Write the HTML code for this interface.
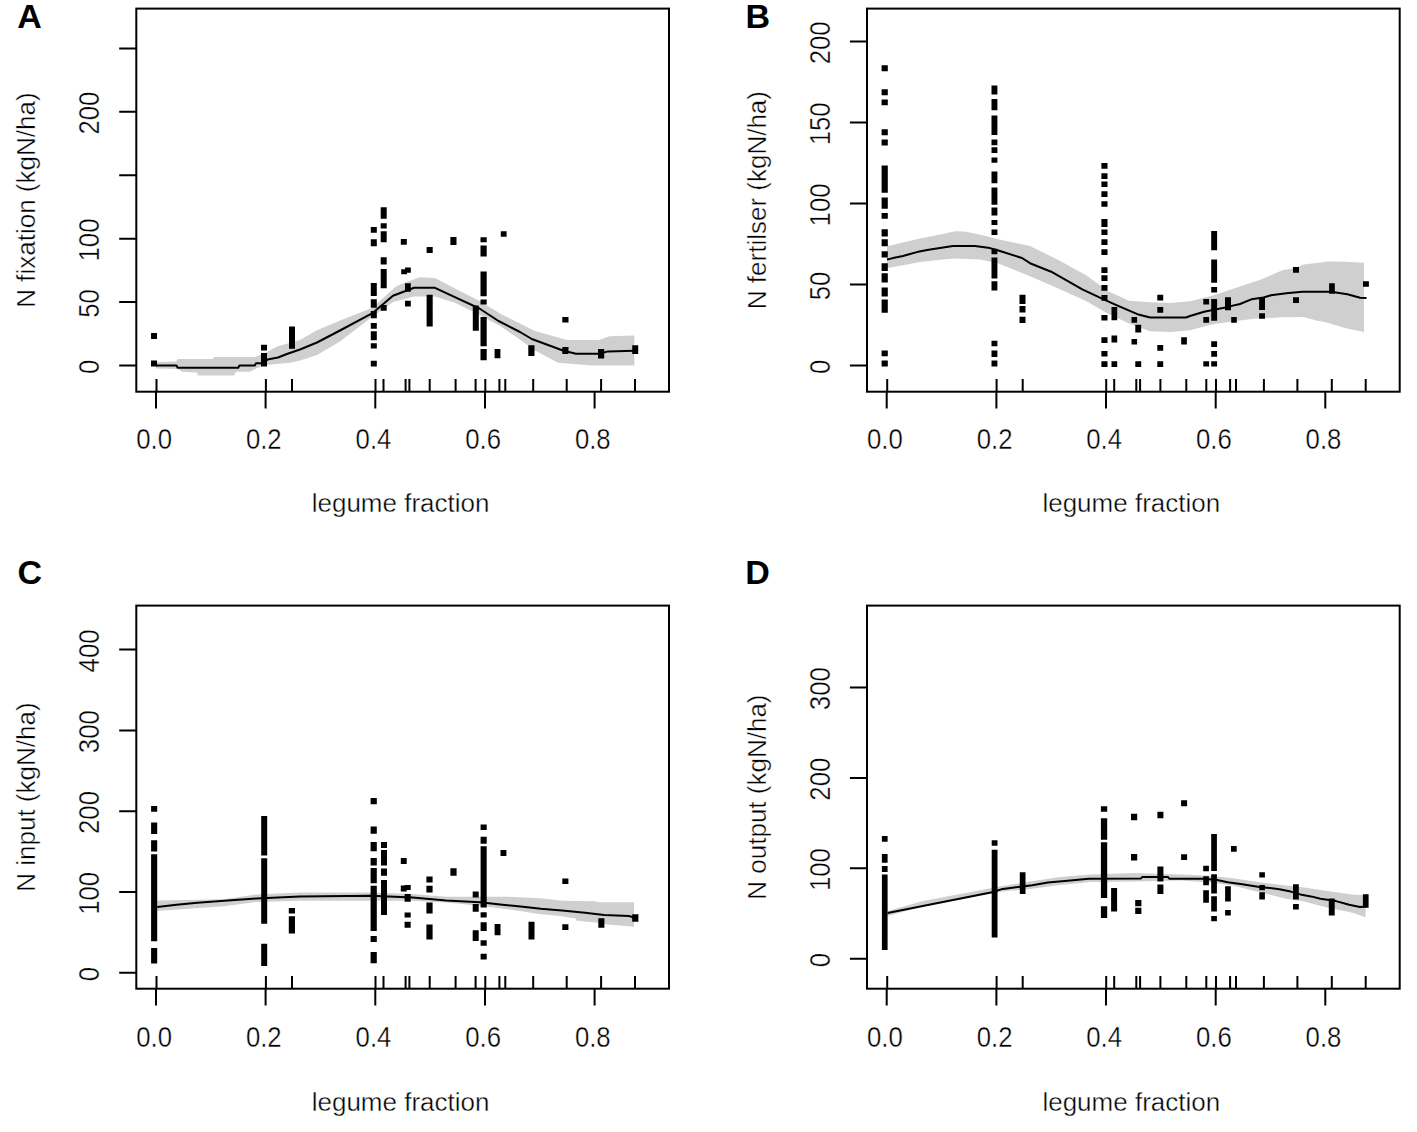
<!DOCTYPE html>
<html><head><meta charset="utf-8"><title>Legume fraction plots</title>
<style>
html,body{margin:0;padding:0;background:#fff;width:1417px;height:1132px;overflow:hidden}
svg{display:block}
.t{font-family:"Liberation Sans", sans-serif;font-size:29.6px;fill:#000;stroke:#fff;stroke-width:0.4px}
.l{font-family:"Liberation Sans", sans-serif;font-size:26px;fill:#000;stroke:#fff;stroke-width:0.4px}
.L{font-family:"Liberation Sans", sans-serif;font-size:34px;font-weight:bold;fill:#000}
</style></head><body>
<svg width="1417" height="1132" viewBox="0 0 1417 1132">
<rect width="1417" height="1132" fill="#fff"/>
<g><polygon fill="#cfcfcf" stroke="none" points="156.0,362.0 176.0,361.5 178.0,359.0 213.0,359.0 214.0,357.0 255.0,357.0 266.0,352.5 277.0,346.4 300.0,340.0 317.0,330.2 340.0,320.5 372.0,308.0 396.5,286.0 419.5,277.2 435.0,278.0 455.0,288.6 479.6,301.0 500.0,313.4 535.0,331.0 567.0,339.9 599.0,339.9 609.5,336.3 634.3,335.5 634.3,365.5 592.0,365.5 558.0,362.8 535.0,350.5 517.7,338.1 500.0,326.0 479.6,315.1 455.0,302.8 435.0,296.6 414.0,296.6 393.0,301.9 372.0,316.9 340.0,341.6 317.0,354.9 300.0,360.6 290.0,362.8 266.4,365.0 256.0,368.6 250.0,371.8 236.0,371.8 234.0,375.5 198.0,375.5 197.0,372.5 182.0,371.8 178.0,369.0 156.0,368.6"/><polyline fill="none" stroke="#000" stroke-width="2" stroke-linejoin="round" points="156.0,365.4 176.5,365.4 177.5,367.7 238.4,367.7 239.4,365.4 254.8,365.4 256.0,363.3 262.0,363.3 267.5,359.6 278.0,357.5 287.6,353.8 300.0,349.5 317.0,342.5 340.0,330.5 372.0,313.4 393.0,295.7 414.0,287.8 435.0,287.8 450.0,294.8 479.4,308.5 498.5,321.0 520.0,332.0 531.8,339.0 563.6,350.8 576.0,353.7 599.0,353.7 608.0,351.4 634.3,350.8"/><path fill="#000" d="M151.0 333.0H157.0V339.0H151.0ZM151.0 360.6H157.0V366.5H151.0ZM261.0 344.8H267.0V350.5H261.0ZM261.0 353.0H267.0V366.4H261.0ZM289.0 326.6H295.0V348.7H289.0ZM370.8 227.0H376.8V232.7H370.8ZM370.8 239.3H376.8V246.2H370.8ZM370.8 283.0H376.8V296.0H370.8ZM370.8 299.3H376.8V307.7H370.8ZM370.8 311.1H376.8V318.2H370.8ZM370.8 323.0H376.8V328.7H370.8ZM370.8 331.2H376.8V340.2H370.8ZM370.8 343.2H376.8V348.5H370.8ZM370.8 360.8H376.8V366.5H370.8ZM380.7 207.2H386.7V218.7H380.7ZM380.7 223.2H386.7V228.5H380.7ZM380.7 231.2H386.7V242.3H380.7ZM380.7 257.3H386.7V264.5H380.7ZM380.7 269.0H386.7V288.2H380.7ZM380.7 305.0H386.7V310.7H380.7ZM400.8 239.0H406.8V244.7H400.8ZM401.2 269.3H407.0V274.3H401.2ZM405.0 267.5H410.8V272.7H405.0ZM405.0 283.2H410.8V291.8H405.0ZM405.0 300.8H410.8V306.5H405.0ZM426.6 247.0H432.7V253.0H426.6ZM426.6 294.8H432.7V326.6H426.6ZM450.4 237.0H456.5V245.0H450.4ZM472.8 305.5H478.8V330.8H472.8ZM480.5 237.2H486.7V242.3H480.5ZM480.5 245.5H486.7V256.4H480.5ZM480.5 271.4H486.7V296.2H480.5ZM480.5 299.4H486.7V304.5H480.5ZM480.5 317.0H486.7V346.2H480.5ZM480.5 349.1H486.7V360.3H480.5ZM494.6 349.1H500.4V358.3H494.6ZM500.8 231.2H506.6V236.8H500.8ZM528.3 345.2H534.5V356.1H528.3ZM562.3 317.0H568.5V322.6H562.3ZM562.3 347.0H568.5V354.0H562.3ZM598.0 349.0H604.2V358.4H598.0ZM632.2 345.2H638.2V354.0H632.2Z"/><path stroke="#000" stroke-width="2" fill="none" d="M156.5 391.7V379.0M265.9 391.7V379.0M292.0 391.7V379.0M375.5 391.7V379.0M383.5 391.7V379.0M405.6 391.7V379.0M409.4 391.7V379.0M429.7 391.7V379.0M455.6 391.7V379.0M475.6 391.7V379.0M485.3 391.7V379.0M499.4 391.7V379.0M505.3 391.7V379.0M533.2 391.7V379.0M566.7 391.7V379.0M601.1 391.7V379.0M635.0 391.7V379.0"/><rect x="136.3" y="8.6" width="532.7" height="383.1" fill="none" stroke="#000" stroke-width="2"/><path stroke="#000" stroke-width="2" fill="none" d="M156.0 391.7V408.4M265.6 391.7V408.4M375.3 391.7V408.4M485.0 391.7V408.4M594.6 391.7V408.4M119.2 365.5H136.3M119.2 302.1H136.3M119.2 238.7H136.3M119.2 175.2H136.3M119.2 111.8H136.3M119.2 48.4H136.3"/><text transform="translate(154.2,448.6) scale(0.87,1)" text-anchor="middle" class="t">0.0</text><text transform="translate(263.8,448.6) scale(0.87,1)" text-anchor="middle" class="t">0.2</text><text transform="translate(373.5,448.6) scale(0.87,1)" text-anchor="middle" class="t">0.4</text><text transform="translate(483.2,448.6) scale(0.87,1)" text-anchor="middle" class="t">0.6</text><text transform="translate(592.8,448.6) scale(0.87,1)" text-anchor="middle" class="t">0.8</text><text transform="translate(99.4,366.8) rotate(-90) scale(0.87,1)" text-anchor="middle" class="t">0</text><text transform="translate(99.4,303.4) rotate(-90) scale(0.87,1)" text-anchor="middle" class="t">50</text><text transform="translate(99.4,240.0) rotate(-90) scale(0.87,1)" text-anchor="middle" class="t">100</text><text transform="translate(99.4,113.1) rotate(-90) scale(0.87,1)" text-anchor="middle" class="t">200</text><text x="400.6" y="511.8" text-anchor="middle" class="l">legume fraction</text><text transform="translate(35.2,200.1) rotate(-90)" text-anchor="middle" class="l">N fixation (kgN/ha)</text><text x="17.3" y="27.8" class="L">A</text></g>
<g><polygon fill="#cfcfcf" stroke="none" points="887.0,246.5 897.6,243.7 920.2,238.6 942.8,234.1 955.0,231.3 965.0,231.5 980.2,234.7 997.2,238.9 1030.0,246.0 1058.3,260.0 1086.5,275.5 1107.7,291.0 1129.0,300.8 1150.1,302.2 1171.3,302.9 1190.0,301.3 1211.2,296.1 1232.4,289.0 1253.6,282.0 1261.2,279.5 1274.8,273.5 1282.4,270.3 1296.0,267.8 1303.6,264.6 1317.2,263.1 1327.6,261.4 1346.0,261.8 1364.0,262.8 1364.0,332.0 1346.0,328.2 1324.8,321.9 1317.2,320.8 1303.6,316.9 1282.4,317.3 1261.2,318.3 1253.6,318.7 1232.4,321.6 1211.2,324.4 1190.0,330.2 1171.3,331.9 1150.1,331.2 1129.0,323.4 1107.7,313.5 1086.5,301.3 1058.3,288.6 1030.0,276.2 1018.4,271.4 997.2,263.0 980.2,259.4 955.0,258.4 942.8,259.5 920.2,262.1 897.6,266.3 887.0,268.0"/><polyline fill="none" stroke="#000" stroke-width="2" stroke-linejoin="round" points="887.0,259.5 893.0,258.1 903.0,256.0 910.0,254.0 917.0,252.1 927.0,250.0 941.5,247.8 953.0,246.0 975.0,246.0 990.0,248.1 1000.0,251.0 1022.0,258.0 1030.0,263.2 1051.2,271.7 1082.3,289.3 1104.2,299.6 1117.6,305.7 1137.4,314.2 1150.1,317.5 1186.0,317.5 1190.0,316.0 1204.1,311.7 1225.3,307.4 1240.0,304.0 1251.3,299.3 1263.5,297.5 1271.1,295.3 1286.3,293.2 1302.5,291.7 1331.0,291.7 1347.4,294.3 1360.1,297.8 1366.5,298.1"/><path fill="#000" d="M881.6 65.2H887.8V71.3H881.6ZM881.6 89.2H887.8V95.3H881.6ZM881.6 99.5H887.8V105.2H881.6ZM881.6 129.2H887.8V135.3H881.6ZM881.6 139.5H887.8V145.5H881.6ZM881.6 165.4H887.8V192.8H881.6ZM881.6 197.5H887.8V208.8H881.6ZM881.6 213.1H887.8V218.7H881.6ZM881.6 229.3H887.8V236.4H881.6ZM881.6 239.2H887.8V246.3H881.6ZM881.6 251.3H887.8V257.6H881.6ZM881.6 263.3H887.8V271.1H881.6ZM881.6 273.2H887.8V282.4H881.6ZM881.6 287.4H887.8V296.6H881.6ZM881.6 299.4H887.8V312.8H881.6ZM881.6 350.6H887.8V356.2H881.6ZM881.6 360.5H887.8V366.5H881.6ZM991.5 85.5H997.4V94.6H991.5ZM991.5 99.1H997.4V110.2H991.5ZM991.5 115.5H997.4V134.9H991.5ZM991.5 139.4H997.4V145.3H991.5ZM991.5 147.2H997.4V153.1H991.5ZM991.5 157.5H997.4V162.8H991.5ZM991.5 171.6H997.4V183.3H991.5ZM991.5 187.5H997.4V204.7H991.5ZM991.5 207.6H997.4V215.4H991.5ZM991.5 219.9H997.4V225.1H991.5ZM991.5 229.6H997.4V234.9H991.5ZM991.5 248.8H997.4V254.3H991.5ZM991.5 257.5H997.4V278.4H991.5ZM991.5 281.3H997.4V290.6H991.5ZM991.5 340.7H997.4V346.3H991.5ZM991.5 350.6H997.4V357.0H991.5ZM991.5 360.5H997.4V366.5H991.5ZM1019.5 294.8H1025.5V303.9H1019.5ZM1019.5 306.1H1025.5V312.4H1019.5ZM1019.5 316.7H1025.5V323.0H1019.5ZM1101.4 163.0H1107.5V168.7H1101.4ZM1101.4 173.3H1107.5V179.0H1101.4ZM1101.4 181.4H1107.5V187.0H1101.4ZM1101.4 191.3H1107.5V196.9H1101.4ZM1101.4 201.2H1107.5V206.8H1101.4ZM1101.4 219.0H1107.5V227.0H1101.4ZM1101.4 229.4H1107.5V235.1H1101.4ZM1101.4 239.3H1107.5V245.0H1101.4ZM1101.4 249.2H1107.5V254.9H1101.4ZM1101.4 267.3H1107.5V273.0H1101.4ZM1101.4 275.2H1107.5V280.9H1101.4ZM1101.4 285.1H1107.5V290.8H1101.4ZM1101.4 295.0H1107.5V300.7H1101.4ZM1101.4 315.0H1107.5V320.6H1101.4ZM1101.4 337.2H1107.5V342.9H1101.4ZM1101.4 351.0H1107.5V356.6H1101.4ZM1101.4 361.3H1107.5V366.9H1101.4ZM1111.5 307.1H1117.2V320.3H1111.5ZM1111.5 335.4H1117.2V342.5H1111.5ZM1111.5 361.3H1117.2V366.9H1111.5ZM1131.5 317.0H1137.1V322.7H1131.5ZM1131.5 339.0H1137.1V344.6H1131.5ZM1135.3 324.8H1141.2V332.6H1135.3ZM1135.3 361.3H1141.2V366.9H1135.3ZM1157.3 294.8H1163.2V300.5H1157.3ZM1157.3 307.1H1163.2V312.8H1157.3ZM1157.3 345.0H1163.2V350.8H1157.3ZM1157.3 361.3H1163.2V366.9H1157.3ZM1181.2 337.2H1186.9V344.6H1181.2ZM1203.3 298.9H1209.1V304.6H1203.3ZM1203.3 317.0H1209.1V322.7H1203.3ZM1203.3 361.3H1209.1V366.6H1203.3ZM1211.2 231.1H1217.1V250.2H1211.2ZM1211.2 259.4H1217.1V282.7H1211.2ZM1211.2 286.9H1217.1V292.6H1211.2ZM1211.2 298.9H1217.1V320.8H1211.2ZM1211.2 341.2H1217.1V347.0H1211.2ZM1211.2 351.0H1217.1V356.8H1211.2ZM1211.2 361.3H1217.1V366.6H1211.2ZM1225.0 297.2H1231.0V310.2H1225.0ZM1231.2 317.0H1236.8V322.7H1231.2ZM1259.1 297.6H1265.0V310.0H1259.1ZM1259.1 313.2H1265.0V318.8H1259.1ZM1293.0 267.0H1299.0V272.8H1293.0ZM1293.0 297.2H1299.0V303.0H1293.0ZM1329.1 283.2H1334.8V293.8H1329.1ZM1363.0 281.2H1368.9V286.8H1363.0Z"/><path stroke="#000" stroke-width="2" fill="none" d="M887.2 391.7V379.0M996.6 391.7V379.0M1022.7 391.7V379.0M1106.2 391.7V379.0M1114.2 391.7V379.0M1136.3 391.7V379.0M1140.1 391.7V379.0M1160.4 391.7V379.0M1186.3 391.7V379.0M1206.3 391.7V379.0M1216.0 391.7V379.0M1230.1 391.7V379.0M1236.0 391.7V379.0M1263.9 391.7V379.0M1297.4 391.7V379.0M1331.8 391.7V379.0M1365.7 391.7V379.0"/><rect x="867.0" y="8.6" width="532.7" height="383.1" fill="none" stroke="#000" stroke-width="2"/><path stroke="#000" stroke-width="2" fill="none" d="M886.7 391.7V408.4M996.4 391.7V408.4M1106.0 391.7V408.4M1215.7 391.7V408.4M1325.3 391.7V408.4M849.9 365.6H867.0M849.9 284.6H867.0M849.9 203.6H867.0M849.9 122.5H867.0M849.9 41.5H867.0"/><text transform="translate(884.9,448.6) scale(0.87,1)" text-anchor="middle" class="t">0.0</text><text transform="translate(994.6,448.6) scale(0.87,1)" text-anchor="middle" class="t">0.2</text><text transform="translate(1104.2,448.6) scale(0.87,1)" text-anchor="middle" class="t">0.4</text><text transform="translate(1213.9,448.6) scale(0.87,1)" text-anchor="middle" class="t">0.6</text><text transform="translate(1323.5,448.6) scale(0.87,1)" text-anchor="middle" class="t">0.8</text><text transform="translate(830.1,366.9) rotate(-90) scale(0.87,1)" text-anchor="middle" class="t">0</text><text transform="translate(830.1,285.9) rotate(-90) scale(0.87,1)" text-anchor="middle" class="t">50</text><text transform="translate(830.1,204.9) rotate(-90) scale(0.87,1)" text-anchor="middle" class="t">100</text><text transform="translate(830.1,123.8) rotate(-90) scale(0.87,1)" text-anchor="middle" class="t">150</text><text transform="translate(830.1,42.8) rotate(-90) scale(0.87,1)" text-anchor="middle" class="t">200</text><text x="1131.3" y="511.8" text-anchor="middle" class="l">legume fraction</text><text transform="translate(765.9,200.1) rotate(-90)" text-anchor="middle" class="l">N fertilser (kgN/ha)</text><text x="745.6" y="27.6" class="L">B</text></g>
<g><polygon fill="#cfcfcf" stroke="none" points="157.2,900.5 224.0,899.3 256.0,894.5 300.0,892.5 370.0,892.5 412.5,894.1 446.0,896.7 482.0,896.7 507.2,896.7 540.7,898.3 560.0,900.5 574.3,901.0 596.0,901.2 597.0,902.3 634.0,902.3 634.0,926.8 607.7,924.4 595.8,922.6 576.7,920.8 575.5,918.5 560.0,916.1 540.7,914.3 507.2,909.2 482.0,905.9 446.0,902.5 412.5,900.8 370.0,900.8 300.0,900.8 256.0,902.0 224.0,906.3 157.2,911.0"/><polyline fill="none" stroke="#000" stroke-width="2" stroke-linejoin="round" points="157.2,907.1 176.6,904.7 197.3,902.8 224.3,900.8 256.1,898.4 300.0,896.5 370.6,895.8 412.5,897.5 446.1,900.5 480.0,902.3 502.6,904.8 520.6,906.4 541.0,908.7 564.7,910.7 585.0,912.7 604.2,914.9 629.0,916.0 634.7,917.7"/><path fill="#000" d="M151.1 806.1H157.2V811.7H151.1ZM151.1 822.4H157.2V834.0H151.1ZM151.1 840.3H157.2V851.5H151.1ZM151.1 854.2H157.2V941.3H151.1ZM151.1 948.0H157.2V963.6H151.1ZM261.2 816.0H267.2V855.4H261.2ZM261.2 858.3H267.2V923.8H261.2ZM261.2 943.7H267.2V966.0H261.2ZM288.8 907.9H295.0V913.5H288.8ZM288.8 916.2H295.0V933.4H288.8ZM370.6 798.1H376.8V804.3H370.6ZM370.6 826.6H376.8V833.7H370.6ZM370.6 842.1H376.8V851.3H370.6ZM370.6 858.0H376.8V865.6H370.6ZM370.6 868.1H376.8V883.2H370.6ZM370.6 885.7H376.8V931.1H370.6ZM370.6 936.1H376.8V942.0H370.6ZM370.6 952.1H376.8V963.3H370.6ZM381.0 842.1H387.0V848.0H381.0ZM381.0 850.1H387.0V865.6H381.0ZM381.0 868.6H387.0V875.7H381.0ZM381.0 879.9H387.0V915.1H381.0ZM400.8 858.0H406.7V863.9H400.8ZM400.8 885.4H406.7V891.6H400.8ZM404.6 884.9H410.7V890.0H404.6ZM404.6 894.1H410.7V901.7H404.6ZM404.6 912.6H410.7V917.6H404.6ZM404.6 921.8H410.7V927.7H404.6ZM426.4 876.5H432.6V882.4H426.4ZM426.4 885.7H432.6V892.5H426.4ZM426.4 902.5H432.6V913.4H426.4ZM426.4 924.4H432.6V939.5H426.4ZM450.4 868.3H456.6V875.7H450.4ZM472.7 891.6H478.7V897.5H472.7ZM472.7 903.9H478.7V911.8H472.7ZM472.7 930.2H478.7V941.1H472.7ZM480.6 824.5H486.7V830.0H480.6ZM480.6 836.7H486.7V843.8H480.6ZM480.6 846.3H486.7V907.6H480.6ZM480.6 912.3H486.7V917.6H480.6ZM480.6 922.3H486.7V931.1H480.6ZM480.6 940.3H486.7V945.8H480.6ZM480.6 953.7H486.7V959.6H480.6ZM494.6 924.0H500.5V935.3H494.6ZM500.5 850.1H506.4V855.9H500.5ZM528.5 921.8H534.5V939.5H528.5ZM562.3 878.4H568.4V884.0H562.3ZM562.3 924.3H568.4V929.9H562.3ZM598.3 918.3H604.4V927.8H598.3ZM632.2 914.3H638.4V921.8H632.2Z"/><path stroke="#000" stroke-width="2" fill="none" d="M156.5 988.7V976.0M265.9 988.7V976.0M292.0 988.7V976.0M375.5 988.7V976.0M383.5 988.7V976.0M405.6 988.7V976.0M409.4 988.7V976.0M429.7 988.7V976.0M455.6 988.7V976.0M475.6 988.7V976.0M485.3 988.7V976.0M499.4 988.7V976.0M505.3 988.7V976.0M533.2 988.7V976.0M566.7 988.7V976.0M601.1 988.7V976.0M635.0 988.7V976.0"/><rect x="136.3" y="605.6" width="532.7" height="383.1" fill="none" stroke="#000" stroke-width="2"/><path stroke="#000" stroke-width="2" fill="none" d="M156.0 988.7V1005.4M265.6 988.7V1005.4M375.3 988.7V1005.4M485.0 988.7V1005.4M594.6 988.7V1005.4M119.2 972.8H136.3M119.2 892.0H136.3M119.2 811.2H136.3M119.2 730.4H136.3M119.2 649.6H136.3"/><text transform="translate(154.2,1047.1) scale(0.87,1)" text-anchor="middle" class="t">0.0</text><text transform="translate(263.8,1047.1) scale(0.87,1)" text-anchor="middle" class="t">0.2</text><text transform="translate(373.5,1047.1) scale(0.87,1)" text-anchor="middle" class="t">0.4</text><text transform="translate(483.2,1047.1) scale(0.87,1)" text-anchor="middle" class="t">0.6</text><text transform="translate(592.8,1047.1) scale(0.87,1)" text-anchor="middle" class="t">0.8</text><text transform="translate(99.4,974.1) rotate(-90) scale(0.87,1)" text-anchor="middle" class="t">0</text><text transform="translate(99.4,893.3) rotate(-90) scale(0.87,1)" text-anchor="middle" class="t">100</text><text transform="translate(99.4,812.5) rotate(-90) scale(0.87,1)" text-anchor="middle" class="t">200</text><text transform="translate(99.4,731.7) rotate(-90) scale(0.87,1)" text-anchor="middle" class="t">300</text><text transform="translate(99.4,650.9) rotate(-90) scale(0.87,1)" text-anchor="middle" class="t">400</text><text x="400.6" y="1110.8" text-anchor="middle" class="l">legume fraction</text><text transform="translate(35.2,797.1) rotate(-90)" text-anchor="middle" class="l">N input (kgN/ha)</text><text x="17.6" y="584.2" class="L">C</text></g>
<g><polygon fill="#cfcfcf" stroke="none" points="887.5,911.0 923.0,901.0 965.4,893.0 1002.6,886.0 1030.0,881.4 1060.0,876.9 1090.1,874.6 1135.2,873.1 1180.0,874.5 1206.5,875.6 1233.0,878.3 1259.5,882.2 1286.0,885.6 1303.9,887.5 1327.7,891.0 1351.6,894.6 1365.5,895.2 1365.5,917.2 1351.6,912.5 1327.7,907.7 1303.9,901.6 1286.0,898.8 1259.5,892.2 1233.0,885.6 1206.5,882.2 1180.0,880.5 1135.2,881.4 1090.1,882.1 1060.0,885.1 1030.0,888.9 1002.6,891.5 965.4,898.5 923.0,906.5 887.5,916.0"/><polyline fill="none" stroke="#000" stroke-width="2" stroke-linejoin="round" points="887.6,912.9 992.0,892.3 1002.7,888.9 1032.3,885.3 1047.9,882.5 1067.6,880.7 1088.8,878.7 1141.0,878.4 1142.4,876.9 1167.8,876.9 1169.3,878.7 1203.9,878.7 1217.1,880.0 1227.7,882.2 1242.3,884.2 1259.5,886.9 1279.4,889.2 1290.7,891.6 1300.3,894.4 1311.0,896.4 1320.5,898.8 1336.0,901.1 1349.2,904.7 1359.9,907.1 1365.9,906.5"/><path fill="#000" d="M881.9 836.0H887.6V841.8H881.9ZM881.9 854.1H887.6V862.7H881.9ZM881.9 866.0H887.6V872.0H881.9ZM881.9 874.4H887.6V949.9H881.9ZM991.7 840.2H997.5V845.8H991.7ZM991.7 849.7H997.5V937.6H991.7ZM1019.8 872.3H1025.5V893.9H1019.8ZM1100.9 806.3H1107.2V811.8H1100.9ZM1100.9 818.3H1107.2V839.8H1100.9ZM1100.9 842.3H1107.2V897.9H1100.9ZM1100.9 906.2H1107.2V917.9H1100.9ZM1111.1 888.1H1117.1V911.4H1111.1ZM1131.0 813.8H1137.2V820.2H1131.0ZM1131.0 853.9H1137.2V860.4H1131.0ZM1135.2 899.9H1141.4V906.2H1135.2ZM1135.2 907.7H1141.4V914.0H1135.2ZM1157.4 811.8H1163.4V818.3H1157.4ZM1157.4 866.4H1163.4V881.4H1157.4ZM1157.4 884.4H1163.4V893.9H1157.4ZM1181.1 800.3H1187.1V806.3H1181.1ZM1181.1 854.2H1187.1V860.0H1181.1ZM1203.2 865.7H1208.9V871.2H1203.2ZM1203.2 876.3H1208.9V885.3H1203.2ZM1203.2 890.2H1208.9V902.8H1203.2ZM1211.2 834.1H1216.9V871.0H1211.2ZM1211.2 874.3H1216.9V893.5H1211.2ZM1211.2 896.2H1216.9V911.4H1211.2ZM1211.2 916.0H1216.9V921.3H1211.2ZM1225.1 886.2H1230.8V901.5H1225.1ZM1225.1 910.1H1230.8V915.4H1225.1ZM1231.0 846.1H1236.7V851.8H1231.0ZM1259.3 872.3H1264.9V877.6H1259.3ZM1259.3 884.9H1264.9V890.2H1259.3ZM1259.3 892.2H1264.9V899.5H1259.3ZM1293.0 884.3H1298.8V899.4H1293.0ZM1293.0 904.1H1298.8V909.6H1293.0ZM1328.8 898.5H1334.7V915.5H1328.8ZM1362.9 894.3H1368.6V907.7H1362.9Z"/><path stroke="#000" stroke-width="2" fill="none" d="M887.2 988.7V976.0M996.6 988.7V976.0M1022.7 988.7V976.0M1106.2 988.7V976.0M1114.2 988.7V976.0M1136.3 988.7V976.0M1140.1 988.7V976.0M1160.4 988.7V976.0M1186.3 988.7V976.0M1206.3 988.7V976.0M1216.0 988.7V976.0M1230.1 988.7V976.0M1236.0 988.7V976.0M1263.9 988.7V976.0M1297.4 988.7V976.0M1331.8 988.7V976.0M1365.7 988.7V976.0"/><rect x="867.0" y="605.6" width="532.7" height="383.1" fill="none" stroke="#000" stroke-width="2"/><path stroke="#000" stroke-width="2" fill="none" d="M886.7 988.7V1005.4M996.4 988.7V1005.4M1106.0 988.7V1005.4M1215.7 988.7V1005.4M1325.3 988.7V1005.4M849.9 958.8H867.0M849.9 868.3H867.0M849.9 777.9H867.0M849.9 687.4H867.0"/><text transform="translate(884.9,1047.1) scale(0.87,1)" text-anchor="middle" class="t">0.0</text><text transform="translate(994.6,1047.1) scale(0.87,1)" text-anchor="middle" class="t">0.2</text><text transform="translate(1104.2,1047.1) scale(0.87,1)" text-anchor="middle" class="t">0.4</text><text transform="translate(1213.9,1047.1) scale(0.87,1)" text-anchor="middle" class="t">0.6</text><text transform="translate(1323.5,1047.1) scale(0.87,1)" text-anchor="middle" class="t">0.8</text><text transform="translate(830.1,960.1) rotate(-90) scale(0.87,1)" text-anchor="middle" class="t">0</text><text transform="translate(830.1,869.6) rotate(-90) scale(0.87,1)" text-anchor="middle" class="t">100</text><text transform="translate(830.1,779.2) rotate(-90) scale(0.87,1)" text-anchor="middle" class="t">200</text><text transform="translate(830.1,688.7) rotate(-90) scale(0.87,1)" text-anchor="middle" class="t">300</text><text x="1131.3" y="1110.8" text-anchor="middle" class="l">legume fraction</text><text transform="translate(765.9,797.1) rotate(-90)" text-anchor="middle" class="l">N output (kgN/ha)</text><text x="745.2" y="584.2" class="L">D</text></g>
</svg>
</body></html>
